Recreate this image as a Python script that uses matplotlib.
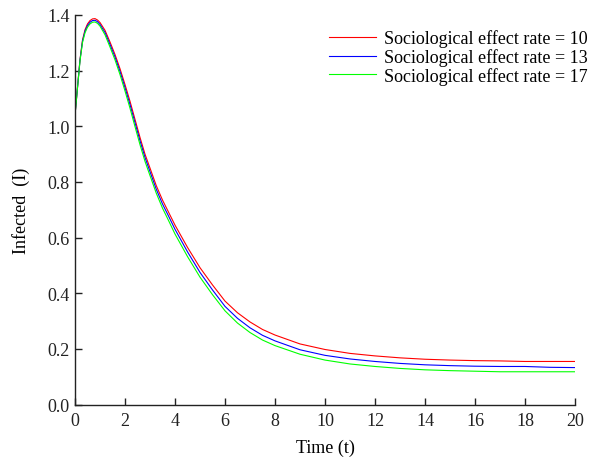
import matplotlib
matplotlib.use("Agg")
import matplotlib.pyplot as plt

t = [0, 0.1, 0.2, 0.3, 0.4, 0.5, 0.6, 0.7, 0.8, 0.9, 1.0, 1.2, 1.4, 1.6, 1.8, 2.0,
     2.2, 2.4, 2.6, 2.8, 3.0, 3.25, 3.5, 3.75, 4.0, 4.5, 5.0, 5.5, 6.0, 6.5, 7.0,
     7.5, 8.0, 9.0, 10.0, 11.0, 12.0, 13.0, 14.0, 15.0, 16.0, 17.0, 18.0, 19.0, 20.0]

rate_10 = [1.040, 1.140, 1.240, 1.310, 1.347, 1.368, 1.380, 1.386, 1.387, 1.382, 1.373,
           1.345, 1.303, 1.258, 1.207, 1.150, 1.090, 1.025, 0.960, 0.900, 0.850, 0.787,
           0.735, 0.690, 0.645, 0.565, 0.492, 0.430, 0.372, 0.330, 0.297, 0.270, 0.250,
           0.218, 0.198, 0.184, 0.175, 0.168, 0.163, 0.160, 0.158, 0.157, 0.155, 0.155, 0.155]

rate_13 = [1.040, 1.140, 1.238, 1.306, 1.342, 1.362, 1.374, 1.380, 1.381, 1.376, 1.366,
           1.337, 1.294, 1.249, 1.197, 1.139, 1.078, 1.013, 0.948, 0.888, 0.837, 0.774,
           0.721, 0.676, 0.630, 0.549, 0.475, 0.412, 0.353, 0.310, 0.276, 0.249, 0.229,
           0.197, 0.177, 0.164, 0.155, 0.148, 0.143, 0.140, 0.138, 0.137, 0.137, 0.134, 0.133]

rate_17 = [1.040, 1.138, 1.235, 1.301, 1.336, 1.356, 1.368, 1.374, 1.375, 1.370, 1.360,
           1.329, 1.285, 1.239, 1.186, 1.127, 1.065, 0.999, 0.934, 0.874, 0.823, 0.760,
           0.706, 0.660, 0.613, 0.532, 0.458, 0.395, 0.337, 0.293, 0.259, 0.232, 0.212,
           0.181, 0.160, 0.146, 0.137, 0.130, 0.125, 0.122, 0.120, 0.118, 0.118, 0.118, 0.118]

labels = ["Sociological effect rate = 10", "Sociological effect rate = 13",
          "Sociological effect rate = 17"]
colors = ["#ff0000", "#0000ff", "#00ff00"]

plt.rcParams['font.family'] = ['Liberation Serif', 'DejaVu Serif']

fig = plt.figure(figsize=(5.95, 4.6), dpi=100)
ax = fig.add_axes([75/595, 1 - 405.6/460, 500/595, (405.6 - 16)/460])

for y, lab, c in zip([rate_10, rate_13, rate_17], labels, colors):
    ax.plot(t, y, color=c, lw=0.8, label=lab)

ax.set_xlim(0, 20)
ax.set_ylim(0, 1.4)
ax.set_xticks(range(0, 21, 2))
ax.set_yticks([0, 0.2, 0.4, 0.6, 0.8, 1.0, 1.2, 1.4])
ax.set_yticklabels(["0.0", "0.2", "0.4", "0.6", "0.8", "1.0", "1.2", "1.4"])
ax.spines['top'].set_visible(False)
ax.spines['right'].set_visible(False)
for s in ['left', 'bottom']:
    ax.spines[s].set_linewidth(1.0)
    ax.spines[s].set_color('#222222')
ax.tick_params(direction='in', length=5, width=1.0, labelsize=13, colors='#222222')
ax.tick_params(axis='x', pad=5)
ax.tick_params(axis='y', pad=4)
ax.set_xlabel("Time (t)", fontsize=13, labelpad=7)
ax.set_ylabel("Infected  (I)", fontsize=13, labelpad=12)

leg = ax.legend(loc='upper right', frameon=False, fontsize=13, handlelength=2.6,
                handletextpad=0.45, labelspacing=0.05, borderaxespad=0.0,
                bbox_to_anchor=(1.04, 0.982))

fig.savefig("out.png", dpi=100)
